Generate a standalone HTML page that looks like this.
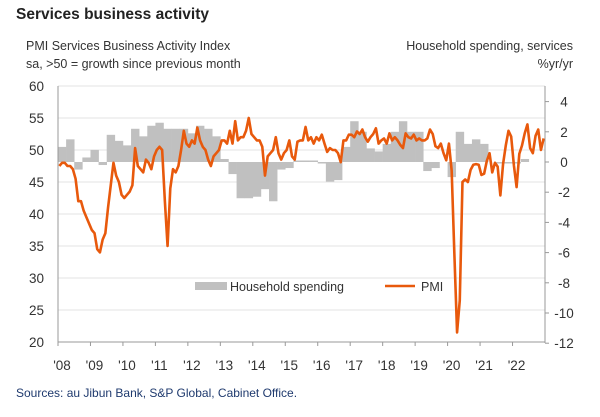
<!DOCTYPE html>
<html><head><meta charset="utf-8"><style>
body{margin:0;background:#fff;}
svg{display:block;font-family:"Liberation Sans",sans-serif;}
</style></head><body>
<svg id="chart" width="600" height="417" viewBox="0 0 600 417">
<text x="16" y="19" font-size="15.5" font-weight="bold" fill="#222">Services business activity</text>
<text x="26" y="50" font-size="12.5" fill="#333">PMI Services Business Activity Index</text>
<text x="26" y="68" font-size="12.5" fill="#333">sa, &gt;50 = growth since previous month</text>
<text x="573" y="50" font-size="12.5" fill="#333" text-anchor="end">Household spending, services</text>
<text x="573" y="68" font-size="12.5" fill="#333" text-anchor="end">%yr/yr</text>
<g id="grid"></g>
<g id="bars"></g>
<g id="axes"></g>
<path id="pmi" fill="none" stroke="#e8590c" stroke-width="2.6" stroke-linejoin="round"/>
<g>
<rect x="195" y="282" width="32" height="8" fill="#c0c0c0"/>
<text x="230" y="291" font-size="12.5" fill="#333">Household spending</text>
<line x1="385" y1="286" x2="415" y2="286" stroke="#e8590c" stroke-width="2.6"/>
<text x="421" y="291" font-size="12.5" fill="#333">PMI</text>
</g>
<text x="16" y="397" font-size="12" fill="#1f3a6e">Sources: au Jibun Bank, S&amp;P Global, Cabinet Office.</text>
</svg>
<script>
const leftTicks=[20,25,30,35,40,45,50,55,60];
const rightTicks=[-12,-10,-8,-6,-4,-2,0,2,4];
const yearLabels=["'08","'09","'10","'11","'12","'13","'14","'15","'16","'17","'18","'19","'20","'21","'22"];
const spending=[1.0,1.5,-0.5,0.3,0.8,-0.2,1.8,1.4,1.1,2.2,1.7,2.4,2.6,2.2,2.2,2.2,1.9,2.4,2.2,1.7,0.2,-0.8,-2.4,-2.4,-2.3,-1.8,-2.6,-0.5,-0.4,0.1,0.1,0.1,-0.1,-1.3,-1.2,1.0,2.7,2.0,0.9,0.7,1.2,2.0,2.7,2.0,2.0,-0.6,-0.4,0.0,-1.0,2.0,1.2,1.5,1.2,0.0,-0.1,-0.1,-0.1,0.2];
const pmi=[47.5,48,48,47.5,47.5,47,45.5,42,42,40.5,39.5,38.5,
37.5,37,34.5,34,36,37,41,44.5,48,46,45,43,
42.5,43,43.5,44.5,50.3,47.5,47,46.5,48.5,48,47,49,
50,50.5,50,42,35,44,47,46.5,47.5,50,53,51,
50.5,51.5,51,53.5,51.5,50.5,50,48.5,47.5,49,49.5,50,
51.5,51.5,51,53,51,54.5,51.5,52,52,53,55,52.5,
52,51.5,51.5,50.5,46,49,49.5,50,52,49.5,48.5,49.5,
50,51.5,49,48.5,51.3,51.5,51.5,53.6,51.5,52,51,52,
51.5,52.4,51,49.7,50.3,50,50,49.5,48.1,51.5,51.5,52.4,
52.4,52,52.9,52.5,53.2,52,51.3,52,52.5,53.4,51,51.5,
51.8,51,52.6,51.5,52,51.5,50.8,50.3,52.6,52,51.8,52.4,
51.5,51.8,51.5,51.5,51.8,53.2,52.5,50.6,50.3,51,49.5,48.4,
51,46.8,33.8,21.5,26.5,45,45.4,45,46.9,47.7,47.8,47.7,
46.1,46.3,48.3,49.5,46.5,48,47.4,42.9,47.8,50.7,53,52.1,
47.6,44.2,49.4,50.7,52.6,54,50.3,49.5,52.2,53.2,50,51.8];
const X0=58,X1=545,YT=86,YB=342,startYear=2008,years=15;
const xm=m=>X0+m*(X1-X0)/(years*12);
const yl=v=>YB-(v-20)*(YB-YT)/40;
const yr=v=>162-v*15.1;
const NS="http://www.w3.org/2000/svg";
function mk(tag,parent,attrs){const e=document.createElementNS(NS,tag);for(const k in attrs)e.setAttribute(k,attrs[k]);parent.appendChild(e);return e;}
const grid=document.getElementById('grid'),axes=document.getElementById('axes'),bars=document.getElementById('bars');
leftTicks.forEach(v=>{
 const l=mk('line',grid,{x1:X0,x2:X1,y1:yl(v),y2:yl(v),stroke:'#e3e3e3','stroke-width':1});
 
 
 const t=mk('text',axes,{x:44,y:yl(v)+5,'font-size':13.5,fill:'#333','text-anchor':'end'});
 t.textContent=v;
 
 
});
rightTicks.forEach(v=>{
 const tk=mk('line',axes,{x1:X1,x2:X1+4,y1:yr(v),y2:yr(v),stroke:'#999'});
 
 
 const t=mk('text',axes,{x:564,y:yr(v)+5,'font-size':13.5,fill:'#333','text-anchor':'middle'});
 t.textContent=v;
 
 
});
spending.forEach((v,i)=>{
 const x=xm(i*3),w=xm(i*3+3)-x;
 const r=mk('rect',bars,{x:x,width:w+0.3,y:Math.min(yr(v),yr(0)),height:Math.abs(yr(v)-yr(0)),fill:'#c0c0c0'});
 
 
});
const la=mk('line',axes,{x1:X0,x2:X0,y1:YT,y2:YB,stroke:'#999'});


const ra=mk('line',axes,{x1:X1,x2:X1,y1:YT,y2:YB+1,stroke:'#999'});


const xa=mk('line',axes,{x1:X0,x2:X1,y1:YB,y2:YB,stroke:'#999'});


yearLabels.forEach((s,i)=>{
 const x=xm(i*12);
 const tk=mk('line',axes,{x1:x,x2:x,y1:YB,y2:YB+4,stroke:'#999'});
 
 
 const t=mk('text',axes,{x:x+4,y:370,'font-size':13.5,fill:'#333','text-anchor':'middle'});
 t.textContent=s;
 
 
});
document.getElementById('pmi').setAttribute('d',pmi.map((v,i)=>(i?'L':'M')+xm(i+0.5).toFixed(2)+','+yl(v).toFixed(2)).join(''));
</script>
</body></html>
